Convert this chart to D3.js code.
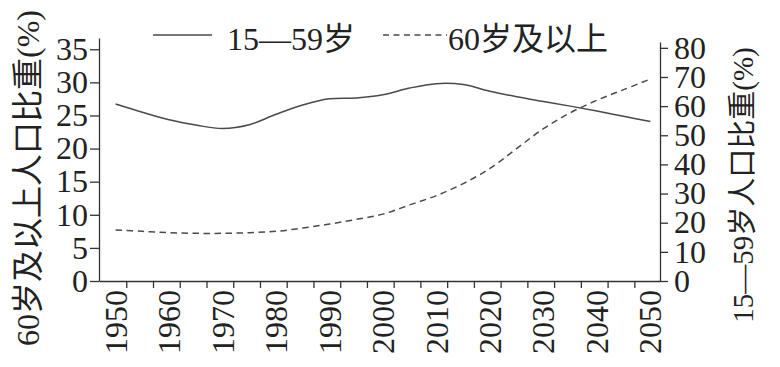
<!DOCTYPE html>
<html>
<head>
<meta charset="utf-8">
<script src="https://cdn.jsdelivr.net/npm/d3@7"></script>
<style>
  body { margin: 0; background: #fff; }
  svg { display: block; }
  text { font-family: "Liberation Serif", "Noto Sans CJK SC", serif; fill: #222; }
  .axis path, .axis line { stroke: #333; stroke-width: 1.3; }
</style>
</head>
<body>
<div id="chart"></div>
<script>
// years and the two series
var years = [1950, 1955, 1960, 1965, 1970, 1975, 1980, 1985, 1990, 1995, 2000,
             2005, 2010, 2015, 2020, 2025, 2030, 2035, 2040, 2045, 2050];
// 15-59 share, right axis
var age15to59 = [60.7, 57.9, 55.3, 53.5, 52.3, 53.6, 57.2, 60.4, 62.5, 62.8, 63.9,
                 66.2, 67.7, 67.4, 65.1, 63.2, 61.6, 60.0, 58.3, 56.5, 54.7];
// 60+ share, left axis
var age60plus = [7.7, 7.5, 7.3, 7.2, 7.2, 7.3, 7.5, 8.0, 8.6, 9.3, 10.1,
                 11.5, 12.9, 14.7, 17.0, 20.0, 23.0, 25.4, 27.3, 28.9, 30.5];

var xLabels = [1950, 1960, 1970, 1980, 1990, 2000, 2010, 2020, 2030, 2040, 2050];
var leftTicks = [0, 5, 10, 15, 20, 25, 30, 35];
var rightTicks = [0, 10, 20, 30, 40, 50, 60, 70, 80];
var legendNames = ["15\u201459岁", "60岁及以上"];
var leftTitle = "60岁及以上人口比重(%)";
var rightTitle = "15\u201459岁人口比重(%)";

var width = 780, height = 367;
var margin = { top: 38, bottom: 86, left: 99, right: 120 };

var svg = d3.select("#chart").append("svg")
    .attr("width", width)
    .attr("height", height);

var x = d3.scaleLinear()
    .domain([1946.9, 2051.8])
    .range([margin.left, width - margin.right]);
var yLeft = d3.scaleLinear()
    .domain([0, 36.7])
    .range([height - margin.bottom, margin.top]);
var yRight = d3.scaleLinear()
    .domain([0, 82])
    .range([height - margin.bottom, 42]);

var y0 = height - margin.bottom;

// x axis: small ticks every 5 years, labels every 10 years
var minorYears = d3.range(1952, 2050, 5);
svg.append("g")
    .attr("class", "axis")
    .attr("transform", "translate(0," + y0 + ")")
    .call(d3.axisBottom(x).tickValues(minorYears).tickFormat("").tickSize(7).tickSizeOuter(0));

var xl = svg.append("g")
    .attr("transform", "translate(0," + y0 + ")")
    .call(d3.axisBottom(x).tickValues(xLabels).tickFormat(d3.format("d")).tickSize(0));
xl.select(".domain").remove();
xl.selectAll("text")
    .attr("transform", "rotate(-90)")
    .attr("x", -9)
    .attr("y", 0)
    .attr("dy", "0.33em")
    .attr("text-anchor", "end")
    .style("font-size", "32px");

// left axis
var gl = svg.append("g")
    .attr("class", "axis")
    .attr("transform", "translate(" + margin.left + ",0)")
    .call(d3.axisLeft(yLeft).tickValues(leftTicks).tickSize(9).tickPadding(2).tickSizeOuter(0));
gl.selectAll("text").style("font-size", "32px");

// right axis
var gr = svg.append("g")
    .attr("class", "axis")
    .attr("transform", "translate(" + (width - margin.right) + ",0)")
    .call(d3.axisRight(yRight).tickValues(rightTicks).tickSize(8).tickPadding(6).tickSizeOuter(0));
gr.selectAll("text").style("font-size", "32px");

// axis titles
svg.append("text")
    .attr("transform", "translate(28,178) rotate(-90)")
    .attr("text-anchor", "middle")
    .attr("dy", "0.35em")
    .style("font-size", "32px")
    .text(leftTitle);

svg.append("text")
    .attr("transform", "translate(743,185) rotate(-90)")
    .attr("text-anchor", "middle")
    .attr("dy", "0.35em")
    .style("font-size", "29px")
    .text(rightTitle);

// lines
var idx = d3.range(years.length);

var solid = d3.line()
    .x(function(i) { return x(years[i]); })
    .y(function(i) { return yRight(age15to59[i]); })
    .curve(d3.curveCatmullRom.alpha(0.5));

var dashed = d3.line()
    .x(function(i) { return x(years[i]); })
    .y(function(i) { return yLeft(age60plus[i]); })
    .curve(d3.curveCatmullRom.alpha(0.5));

svg.append("path")
    .attr("d", solid(idx))
    .attr("fill", "none")
    .attr("stroke", "#4a4a4a")
    .attr("stroke-width", 1.5);

svg.append("path")
    .attr("d", dashed(idx))
    .attr("fill", "none")
    .attr("stroke", "#4a4a4a")
    .attr("stroke-width", 1.5)
    .attr("stroke-dasharray", "6.5,4.5");

// legend
var legend = svg.append("g");
legend.append("line")
    .attr("x1", 153).attr("x2", 212).attr("y1", 35).attr("y2", 35)
    .attr("stroke", "#4a4a4a").attr("stroke-width", 1.5);
legend.append("text")
    .attr("x", 227).attr("y", 50)
    .style("font-size", "32px")
    .text(legendNames[0]);
legend.append("line")
    .attr("x1", 383).attr("x2", 447).attr("y1", 35).attr("y2", 35)
    .attr("stroke", "#4a4a4a").attr("stroke-width", 1.5)
    .attr("stroke-dasharray", "6,4.5");
legend.append("text")
    .attr("x", 448).attr("y", 50)
    .style("font-size", "32px")
    .text(legendNames[1]);
</script>
</body>
</html>
